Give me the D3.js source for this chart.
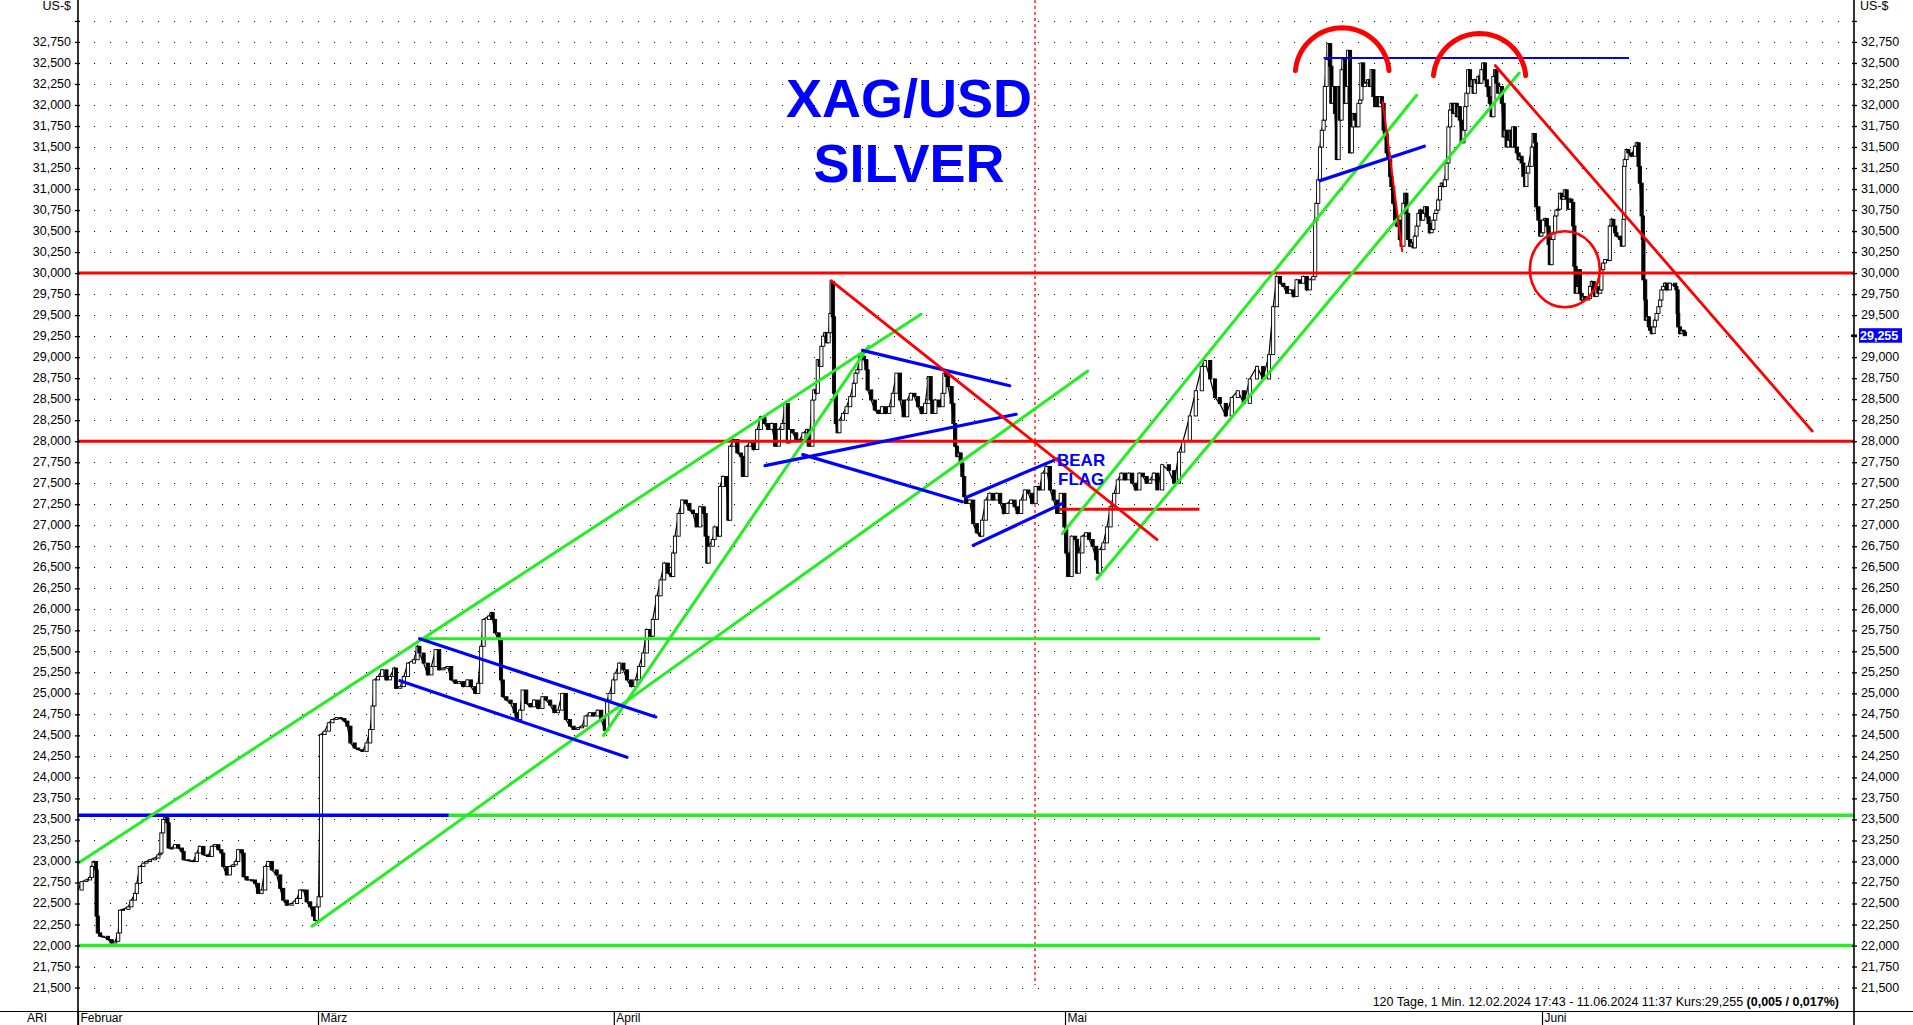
<!DOCTYPE html>
<html><head><meta charset="utf-8">
<script src="https://cdn.jsdelivr.net/npm/d3@7"></script>
<style>
html,body{margin:0;padding:0;background:#fff;overflow:hidden}
svg{display:block;font-family:Arial,"Liberation Sans",sans-serif}
</style></head><body>
<svg id="chart" width="1913" height="1025"></svg>
<script>
// ---------------- DATA ----------------
// x unit = trading-time slot (sampled bars), price in US-$ per ounce
const closes = [
[0,22.66],[0.6,22.76],[1.4,22.78],[2.0,22.81],[2.3,22.94],[2.6,23.00],[2.8,23.00],[3.0,22.90],[3.1,22.35],[3.3,22.15],[3.7,22.11],[4.2,22.11],[5.0,22.07],[5.6,22.03],[6.2,22.05],[6.7,22.15],[7.0,22.42],[7.5,22.43],[8.4,22.46],[8.9,22.54],[9.5,22.62],[9.8,22.74],[10.3,22.94],[10.9,22.98],[11.4,23.00],[12.0,23.02],[12.8,23.04],[13.4,23.08],[13.7,23.10],[13.9,23.34],[14.2,23.50],[14.5,23.52],[14.9,23.46],[15.1,23.16],[15.6,23.16],[16.2,23.20],[16.7,23.16],[17.3,23.12],[17.6,23.02],[18.4,23.01],[19.2,23.00],[19.8,23.10],[20.3,23.18],[20.9,23.08],[21.7,23.06],[22.3,23.18],[22.8,23.20],[23.4,23.14],[23.9,23.10],[24.2,22.94],[24.8,22.84],[25.3,22.94],[25.9,22.96],[26.3,23.00],[26.7,23.14],[27.3,23.10],[27.6,22.82],[28.1,22.78],[29.0,22.78],[29.5,22.74],[30.0,22.62],[30.6,22.66],[31.2,22.94],[31.7,23.00],[32.3,22.90],[33.1,22.84],[33.7,22.68],[34.2,22.54],[34.8,22.48],[35.6,22.50],[36.5,22.56],[37.0,22.66],[37.6,22.66],[38.1,22.52],[38.7,22.46],[39.2,22.35],[39.5,22.30],[39.8,22.46],[40.1,22.58],
[40.5,24.51],[41.1,24.55],[41.8,24.65],[42.4,24.69],[43.1,24.71],[43.8,24.70],[44.4,24.67],[44.9,24.61],[45.4,24.41],[46.1,24.35],[46.7,24.33],[47.4,24.31],[48.1,24.41],[48.7,24.57],[49.1,24.85],[49.4,25.16],[50.0,25.20],[50.7,25.28],[51.4,25.16],[52.0,25.20],[52.7,25.30],[53.0,25.06],[53.7,25.08],[54.3,25.20],[55.0,25.36],[56.0,25.40],[56.6,25.56],[56.9,25.48],[57.6,25.36],[58.3,25.22],[58.9,25.32],[59.6,25.52],[60.2,25.28],[60.9,25.30],[61.6,25.32],[62.2,25.16],[62.9,25.12],[63.5,25.14],[64.2,25.08],[64.9,25.16],[65.5,25.08],[66.2,25.00],[66.7,25.12],[67.2,25.56],[67.6,25.88],[68.5,25.92],[68.9,25.96],[69.1,25.88],[69.5,25.72],[70.1,25.64],[70.5,25.16],[70.8,24.96],[71.4,24.92],[72.1,24.88],[72.8,24.77],[73.1,24.69],[73.7,24.80],[74.1,25.04],[74.7,24.88],[75.4,24.84],[76.0,24.92],[76.7,24.82],[77.4,24.96],[78.0,24.92],[78.7,24.86],[79.4,24.77],[80.0,24.80],[80.7,25.00],[81.3,24.69],[82.0,24.61],[82.6,24.57],[83.3,24.59],[84.0,24.61],[84.6,24.73],[85.3,24.77],[85.9,24.73],[86.6,24.80],[87.2,24.69],[87.8,24.56],[88.2,24.92],[88.6,25.00],[89.2,25.16],[89.6,25.24],[90.2,25.36],[90.9,25.28],[91.5,25.16],[92.2,25.08],[92.9,25.16],[93.5,25.32],[94.2,25.48],[94.8,25.76],[95.5,25.68],[95.8,25.88],[96.5,26.16],[97.1,26.35],[97.7,26.55],[98.3,26.43],[98.9,26.39],[99.2,26.67],[99.5,26.87],[100.1,27.14],[100.7,27.30],[101.3,27.26],[101.9,27.18],[102.5,27.14],[103.1,26.98],[103.7,27.22],[104.3,27.14],[104.6,26.87],[104.9,26.55],[105.1,26.75],[105.8,26.83],[106.1,26.98],[106.7,26.87],[107.0,27.46],[107.5,27.58],[108.1,27.46],[108.4,27.06],[108.7,27.94],[109.3,28.02],[109.9,27.86],[110.5,27.82],[110.8,27.58],[111.4,27.94],[112.0,27.98],[112.6,27.90],[113.2,28.14],[113.8,28.29],[114.4,28.21],[115.0,28.14],[115.6,28.21],[116.2,27.94],[116.8,28.14],[117.4,28.21],[117.9,28.45],[118.3,27.98],[118.5,28.14],[119.1,28.10],[119.7,28.02],[120.3,28.02],[120.9,28.10],[121.5,28.14],[121.8,27.94],[122.4,28.49],[122.7,28.61],[123.0,28.57],[123.3,28.97],[123.6,28.89],[123.9,29.13],[124.2,29.25],[124.5,29.29],[124.8,29.17],[125.1,29.29],[125.4,29.52],[125.6,29.90],[125.8,29.48],[126.0,28.57],[126.3,28.21],[126.6,28.10],[126.9,28.25],[127.5,28.33],[128.1,28.41],[128.7,28.53],[129.3,28.69],[129.6,28.81],[129.9,28.85],[130.4,29.01],[131.0,28.97],[131.4,28.85],[131.6,28.61],[132.2,28.49],[132.8,28.37],[133.4,28.33],[134.0,28.41],[134.6,28.33],[135.2,28.41],[135.8,28.57],[136.4,28.81],[137.0,28.49],[137.6,28.29],[138.2,28.49],[138.8,28.57],[139.4,28.53],[140.0,28.41],[140.6,28.33],[141.2,28.45],[141.8,28.77],[142.1,28.49],[142.4,28.33],[142.9,28.49],[143.5,28.41],[144.1,28.57],[144.4,28.81],[144.7,28.77],[145.0,28.65],[145.6,28.45],[145.9,28.21],[146.2,27.94],[146.5,27.82],[146.8,27.86],[147.1,27.74],[147.4,27.58],[147.7,27.34],[148.0,27.26],[148.6,27.30],[149.2,27.02],[149.8,26.91],[150.4,26.87],[150.7,27.06],[151.3,27.30],[151.9,27.38],[152.5,27.30],[153.1,27.38],[153.7,27.26],[154.3,27.14],[154.9,27.26],[155.5,27.30],[156.1,27.22],[156.6,27.14],[157.2,27.30],[157.8,27.42],[158.4,27.38],[159.0,27.26],[159.6,27.46],[160.2,27.42],[160.8,27.62],[161.4,27.70],[162.0,27.42],[162.6,27.30],[163.2,27.14],[163.8,27.38],[164.4,26.98],[164.7,26.67],[165.0,26.39],[165.6,26.87],[166.2,26.83],[166.5,26.43],[166.8,26.67],[167.4,26.87],[168.0,26.91],[168.5,26.83],[169.1,26.75],[169.7,26.59],[170.0,26.43],[170.3,26.71],[170.9,26.79],[171.5,26.98],[172.1,27.22],[172.7,27.38],[173.3,27.54],[173.9,27.62],[174.5,27.54],[175.1,27.62],[175.7,27.50],[176.3,27.42],[176.9,27.62],[177.5,27.58],[178.1,27.50],[178.7,27.54],[179.3,27.62],[179.9,27.42],
[180.7,27.72],[181.8,27.65],[182.7,27.50],[183.5,27.87],[184.2,28.01],[185.3,28.30],[186.3,28.60],[187.3,28.89],[187.8,28.96],[188.7,28.74],[189.5,28.52],[190.3,28.45],[191.3,28.30],[192.3,28.52],[193.3,28.60],[194.3,28.45],[195.3,28.74],[196.5,28.89],[197.5,28.74],[198.5,29.03],[199.2,29.60],[199.8,29.96],[200.3,29.88],[200.9,29.84],[201.5,29.76],[202.0,29.80],[202.6,29.72],[203.1,29.92],[203.7,29.88],[204.2,29.96],[204.8,29.80],[205.3,29.92],[205.9,29.96],[206.2,30.63],[206.4,30.83],[206.7,31.11],[207.0,31.50],[207.3,31.70],[207.6,31.82],[207.8,32.22],[208.1,32.54],[208.4,32.73],[208.7,32.46],[208.9,32.02],[209.2,32.22],[209.5,31.90],[209.8,31.35],[210.1,32.22],[210.3,31.82],[210.6,32.42],[210.9,32.54],[211.2,32.02],[211.4,32.22],[211.7,32.65],[212.0,31.43],[212.3,31.74],[212.6,31.90],[212.8,31.82],[213.1,31.74],[213.4,32.02],[213.7,32.06],[213.9,32.50],[214.2,32.22],[214.5,32.26],[215.0,32.30],[215.3,32.22],[215.6,32.42],[215.9,32.10],[216.2,31.98],[216.5,32.10],[216.7,31.98],[217.0,32.10],[217.3,32.02],[217.6,31.70],[217.8,31.66],[218.1,31.43],[218.4,31.35],[218.7,31.15],[218.9,31.03],[219.2,30.83],[219.5,30.63],[219.8,30.56],[220.1,30.63],[220.3,30.40],[220.6,30.32],[220.9,30.83],[221.2,30.95],[221.4,30.71],[221.7,30.40],[222.0,30.32],[222.3,30.36],[222.6,30.30],[222.8,30.44],[223.1,30.56],[223.4,30.71],[223.7,30.75],[223.9,30.63],[224.2,30.71],[224.5,30.79],[224.8,30.67],[225.1,30.59],[225.3,30.48],[225.6,30.52],[225.9,30.63],[226.2,30.71],[226.4,30.75],[226.7,30.87],[227.0,31.03],[227.3,31.07],[227.6,31.03],[227.8,31.11],[228.1,31.31],[228.4,31.74],[228.7,31.94],[228.9,32.02],[229.2,31.90],[229.5,32.02],[229.8,31.86],[230.1,31.98],[230.3,31.82],[230.6,31.55],[230.9,31.70],[231.2,31.98],[231.4,32.14],[231.7,32.42],[232.0,32.22],[232.3,32.30],[232.6,32.14],[232.8,32.30],[233.1,32.26],[233.4,32.34],[233.7,32.26],[233.9,32.42],[234.2,32.50],[234.5,32.30],[234.8,32.22],[235.1,32.10],[235.3,32.02],[235.6,31.86],[235.9,32.34],[236.2,32.42],[236.4,32.26],[236.7,32.14],[237.0,32.22],[237.3,32.02],[237.6,31.62],[237.8,31.70],[238.1,31.50],[238.4,31.58],[238.7,31.70],[238.9,31.50],[239.2,31.74],[239.5,31.50],[239.8,31.43],[240.1,31.35],[240.3,31.39],[240.6,31.31],[240.9,31.15],[241.2,31.03],[241.4,31.19],[241.7,31.27],[242.3,31.50],[242.6,31.66],[242.8,31.55],[243.0,30.79],[243.4,30.63],[243.7,30.44],[243.9,30.48],[244.2,30.63],[244.5,30.65],[244.8,30.56],[245.1,30.34],[245.3,30.10],[245.6,30.40],[245.9,30.48],[246.2,30.68],[246.4,30.75],[246.7,30.76],[247.0,30.95],[247.3,30.88],[247.6,30.91],[247.8,30.99],[248.1,30.88],[248.4,30.76],[248.7,30.88],[248.9,30.84],[249.2,30.56],[249.4,30.08],[249.6,29.76],[249.9,29.84],[250.2,30.04],[250.3,29.76],[250.6,29.68],[250.9,29.72],[251.2,29.68],[251.7,29.70],[252.0,29.84],[252.3,29.90],[252.6,29.80],[252.8,29.72],[253.1,29.84],[253.4,29.76],[253.7,29.80],[253.9,30.04],[254.2,30.12],[254.5,30.16],[255.1,30.15],[255.3,30.56],[255.6,30.64],[255.9,30.56],[256.2,30.48],[256.4,30.44],[257.0,30.40],[257.3,30.32],[257.6,30.64],[257.7,31.27],[257.8,31.35],[258.1,31.47],[258.4,31.43],[258.9,31.39],[259.5,31.51],[259.8,31.55],[260.1,31.27],[260.3,31.07],[260.6,30.68],[260.8,30.40],[260.9,29.92],[261.2,29.68],[261.3,29.44],[261.5,29.48],[261.8,29.36],[262.0,29.32],[262.3,29.28],[262.6,29.36],[262.8,29.44],[263.1,29.52],[263.4,29.60],[263.7,29.68],[263.9,29.80],[264.2,29.84],[264.5,29.88],[264.8,29.80],[265.3,29.88],[266.2,29.84],[266.4,29.80],[266.6,29.52],[266.7,29.36],[267.0,29.28],[267.3,29.32],[267.6,29.30],[267.8,29.255]
];
const lastPrice = 29.255;

const yTickValues = d3.range(86, 133).map(k => k / 4);   // 21,500 ... 33,000
const monthLabels = ["Februar", "März", "April", "Mai", "Juni"];
const monthStart  = [0, 40.0, 89.3, 164.5, 244.0];

// horizontal levels (price)
const redLevels   = [30.0, 28.0];
const greenLevels = [22.0];
const splitLevel  = {price: 23.55, tSplit: 61.8};       // blue left part, green right part
const greenSegments = [[57.3, 207.0, 25.65]];           // [tStart, tEnd, price]
const blueSegments  = [[207.6, 258.5, 32.56]];
const redSegments   = [[163.5, 186.9, 27.19]];

// trend lines [t1, p1, t2, p2]
const greenTrends = [
  [0, 22.98, 140.5, 29.51],
  [39.0, 22.23, 168.3, 28.835],
  [87.6, 24.50, 131.8, 29.13],
  [164.05, 26.90, 223.1, 32.115],
  [169.8, 26.36, 240.2, 32.38]
];
const blueTrends = [
  [56.95, 25.65, 96.3, 24.72],
  [53.65, 25.15, 91.5, 24.24],
  [130.75, 29.08, 155.3, 28.66],
  [114.5, 27.71, 156.35, 28.32],
  [120.8, 27.84, 147.4, 27.28],
  [148.0, 27.33, 163.2, 27.79],
  [149.2, 26.76, 164.1, 27.26],
  [207.0, 31.10, 224.4, 31.51]
];
const redTrends = [
  [125.5, 29.91, 179.85, 26.83],
  [236.2, 32.47, 289.05, 28.12]
];
const redThinTrends = [[217.45, 32.04, 220.7, 30.26]];
// double-top arcs and circle: [tCenter, pCenter, tRadius, pRadius]
const topArcs = [[210.7, 32.36, 7.83, 0.558], [233.6, 32.30, 7.72, 0.550]];
const circleMarks = [[247.8, 30.045, 5.83, 0.452]];
const markerLine = {t: 159.5, pBottom: 21.53};

// ---------------- CHART ----------------
const W = 1913, H = 1025;
const L = 78, R = 1854, T = 0, B = 1011;
const svg = d3.select("#chart");
const x = d3.scaleLinear().domain([0, 296]).range([L, R]);
const y = d3.scaleLinear().domain([21.221, 33.249]).range([B, T]);
const de = d3.formatLocale({decimal: ",", thousands: ".", grouping: [3], currency: ["", " $"]});
const fmt = de.format(".3f");
const BLUE = "#0000ff", RED = "#ff0000", GREEN = "#22ee22";

// grid dots
const grid = svg.append("g");
grid.selectAll("line").data(yTickValues).join("line")
  .attr("x1", L + 15.5).attr("x2", R - 4)
  .attr("y1", d => Math.round(y(d)) + 0.5).attr("y2", d => Math.round(y(d)) + 0.5)
  .attr("stroke", "#000").attr("stroke-width", 1).attr("stroke-dasharray", "1 15")
  .attr("shape-rendering", "crispEdges");

// marker dotted red vertical line
svg.append("line")
  .attr("x1", x(markerLine.t)).attr("x2", x(markerLine.t))
  .attr("y1", T).attr("y2", y(markerLine.pBottom))
  .attr("stroke", RED).attr("stroke-width", 1.3).attr("stroke-dasharray", "3 3");

// price bars
const bars = closes.slice(1).map((d, i) => ({t: d[0], o: closes[i][1], c: d[1]}));
const lineGen = d3.line().x(d => x(d[0])).y(d => y(d[1]));
svg.append("path").datum(closes).attr("d", lineGen)
  .attr("fill", "none").attr("stroke", "#000").attr("stroke-width", 1.2);
svg.append("g").selectAll("rect").data(bars).join("rect")
  .attr("x", d => x(d.t) - 1.6).attr("width", 3.2)
  .attr("y", d => y(Math.max(d.o, d.c)))
  .attr("height", d => Math.max(1, Math.abs(y(d.o) - y(d.c))))
  .attr("fill", d => d.c >= d.o ? "#fff" : "#000")
  .attr("stroke", "#000").attr("stroke-width", 0.9);

// annotations
const ann = svg.append("g").attr("stroke-linecap", "round");
function hLine(g, price, x1, x2, color, w) {
  g.append("line").attr("x1", x1).attr("x2", x2).attr("y1", y(price)).attr("y2", y(price))
    .attr("stroke", color).attr("stroke-width", w).attr("stroke-linecap", "butt");
}
redLevels.forEach(p => hLine(ann, p, L, R, RED, 3));
greenLevels.forEach(p => hLine(ann, p, L, R, GREEN, 3.5));
hLine(ann, splitLevel.price, L, x(splitLevel.tSplit), BLUE, 3.5);
hLine(ann, splitLevel.price, x(splitLevel.tSplit), R, GREEN, 3.5);
greenSegments.forEach(s => hLine(ann, s[2], x(s[0]), x(s[1]), GREEN, 3));
blueSegments.forEach(s => hLine(ann, s[2], x(s[0]), x(s[1]), BLUE, 2));
redSegments.forEach(s => hLine(ann, s[2], x(s[0]), x(s[1]), RED, 3));

function trend(data, color, w) {
  ann.append("g").selectAll("line").data(data).join("line")
    .attr("x1", d => x(d[0])).attr("y1", d => y(d[1]))
    .attr("x2", d => x(d[2])).attr("y2", d => y(d[3]))
    .attr("stroke", color).attr("stroke-width", w);
}
trend(greenTrends, GREEN, 3);
trend(blueTrends, BLUE, 3.2);
trend(redTrends, RED, 2.8);
trend(redThinTrends, RED, 2);

const arcAngles = d3.range(0, 41).map(k => Math.PI + 0.09 + k * (Math.PI - 0.18) / 40);
topArcs.forEach(a => {
  const cx = x(a[0]), cy = y(a[1]);
  const rx = x(a[0] + a[2]) - cx, ry = cy - y(a[1] + a[3]);
  ann.append("path")
    .attr("d", d3.line()(arcAngles.map(th => [cx + rx * Math.cos(th), cy + ry * Math.sin(th)])))
    .attr("fill", "none").attr("stroke", RED).attr("stroke-width", 5);
});
circleMarks.forEach(c => {
  const cx = x(c[0]), cy = y(c[1]);
  ann.append("ellipse").attr("cx", cx).attr("cy", cy)
    .attr("rx", x(c[0] + c[2]) - cx).attr("ry", cy - y(c[1] + c[3]))
    .attr("fill", "none").attr("stroke", RED).attr("stroke-width", 2.6);
});

// texts
svg.append("text").attr("x", 909).attr("y", 117).attr("text-anchor", "middle")
  .attr("font-size", 54).attr("font-weight", "bold").attr("fill", BLUE).text("XAG/USD");
svg.append("text").attr("x", 909).attr("y", 182).attr("text-anchor", "middle")
  .attr("font-size", 54).attr("font-weight", "bold").attr("fill", BLUE).text("SILVER");
svg.append("text").attr("x", 1057).attr("y", 466).attr("font-size", 17)
  .attr("font-weight", "bold").attr("fill", BLUE).text("BEAR");
svg.append("text").attr("x", 1058).attr("y", 485).attr("font-size", 17)
  .attr("font-weight", "bold").attr("fill", BLUE).text("FLAG");

// axes
const FS = 12.5;
const axL = svg.append("g").attr("transform", `translate(${L},0)`)
  .call(d3.axisLeft(y).tickValues(yTickValues).tickSize(3).tickPadding(4)
    .tickFormat(d => d >= 33 ? "" : fmt(d)));
const axR = svg.append("g").attr("transform", `translate(${R},0)`)
  .call(d3.axisRight(y).tickValues(yTickValues).tickSize(3).tickPadding(4)
    .tickFormat(d => d >= 33 ? "" : fmt(d)));
[axL, axR].forEach(a => {
  a.select(".domain").remove();
  a.attr("font-size", FS).attr("font-family", "Arial, 'Liberation Sans', sans-serif");
  a.selectAll("text").attr("fill", "#000").attr("dy", "0.28em");
  a.selectAll(".tick line").attr("stroke", "#000").attr("stroke-width", 1.3);
});
axL.selectAll(".tick line").attr("x1", 2).attr("x2", -3);
axR.selectAll(".tick line").attr("x1", -2).attr("x2", 3);

svg.append("line").attr("x1", L).attr("x2", L).attr("y1", 0).attr("y2", H)
  .attr("stroke", "#000").attr("stroke-width", 1.6);
svg.append("line").attr("x1", R).attr("x2", R).attr("y1", 0).attr("y2", H)
  .attr("stroke", "#000").attr("stroke-width", 1.6);
svg.append("line").attr("x1", 0).attr("x2", W).attr("y1", B + 0.5).attr("y2", B + 0.5)
  .attr("stroke", "#000").attr("stroke-width", 1.2);

svg.append("text").attr("x", 71).attr("y", 10).attr("text-anchor", "end")
  .attr("font-size", FS).text("US-$");
svg.append("text").attr("x", R + 6).attr("y", 10).attr("font-size", FS).text("US-$");

// last price tag
const yl = y(lastPrice);
svg.append("line").attr("x1", R - 3).attr("x2", R + 3).attr("y1", yl).attr("y2", yl)
  .attr("stroke", "#000").attr("stroke-width", 2.5);
svg.append("rect").attr("x", R + 5).attr("y", yl - 7.5).attr("width", 43).attr("height", 14.5)
  .attr("fill", BLUE);
svg.append("text").attr("x", R + 6).attr("y", yl + 4.5).attr("font-size", FS)
  .attr("font-weight", "bold").attr("fill", "#fff").text(fmt(lastPrice));

// bottom time axis
const axB = svg.append("g").attr("transform", `translate(0,${B})`)
  .call(d3.axisBottom(x).tickValues(monthStart).tickSize(14).tickPadding(0)
    .tickFormat((d, i) => monthLabels[i]));
axB.select(".domain").remove();
axB.attr("font-size", 12).attr("font-family", "Arial, 'Liberation Sans', sans-serif");
axB.selectAll(".tick line").attr("stroke", "#000").attr("stroke-width", 1.2);
axB.selectAll("text").attr("text-anchor", "start").attr("x", 2).attr("y", 10.5).attr("dy", 0)
  .attr("fill", "#000");
svg.append("text").attr("x", 27).attr("y", B + 10.5).attr("font-size", 12).text("ARI");

// info line
const info = svg.append("text").attr("x", 1839).attr("y", 1006).attr("text-anchor", "end")
  .attr("font-size", FS);
info.append("tspan").text("120 Tage, 1 Min. 12.02.2024 17:43 - 11.06.2024 11:37  Kurs:" + fmt(lastPrice) + " ");
info.append("tspan").attr("font-weight", "bold").text("(0,005 / 0,017%)");
</script>
</body></html>
